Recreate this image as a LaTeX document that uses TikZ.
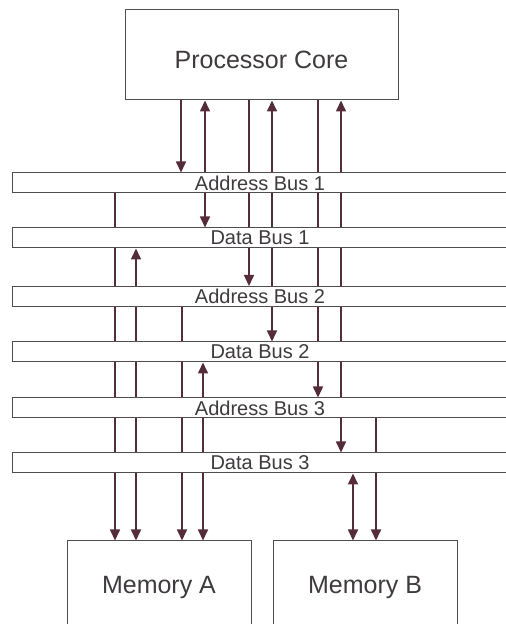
\documentclass[tikz,border=0pt]{standalone}
\usepackage{fontspec}
\setmainfont{Liberation Sans}
\usetikzlibrary{arrows.meta,backgrounds}
\definecolor{wirecol}{RGB}{84,44,58}
\definecolor{linecol}{RGB}{80,75,80}
\definecolor{inkcol}{RGB}{62,58,62}

\begin{document}
\begin{tikzpicture}
	[x=1pt, y=1pt,
	box/.style={rectangle,draw=linecol,line width=1pt,fill=white,text=inkcol,font=\fontsize{25}{29}\selectfont},
	bus/.style={rectangle,draw=linecol,line width=1pt,fill=white,text=inkcol,inner sep=0pt,
		minimum width=496pt,minimum height=20pt,font=\fontsize{20}{21}\selectfont},
	sig/.style={draw=wirecol,line width=1.6pt},
	>={Triangle[length=11pt,width=10pt]}]
	\useasboundingbox (0,0) rectangle (506,624);
	\node (core) [box,minimum width=273pt,minimum height=90pt,text height=28pt,text depth=0pt]
		at (261.5,569) {Processor Core};
	\foreach \name/\y/\txt in {ab1/441/Address Bus 1, db1/386/Data Bus 1, ab2/327.5/Address Bus 2,
		db2/272/Data Bus 2, ab3/216/Address Bus 3, db3/161/Data Bus 3}
		\node (\name) [bus] at (260,\y) {\txt};
	\node (mema) [box,minimum width=184pt,minimum height=92pt] at (159,37) {Memory A};
	\node (memb) [box,minimum width=184pt,minimum height=92pt] at (365,37) {Memory B};
	% wires run behind the buses
	\begin{scope}[on background layer]
	\foreach \x/\a/\b/\tip in {181/core.south/ab1.north/->, 205/core.south/db1.north/<->,
		249/core.south/ab2.north/->, 272/core.south/db2.north/<->,
		318/core.south/ab3.north/->, 341/core.south/db3.north/<->,
		115/ab1.south/mema.north/->, 136/db1.south/mema.north/<->,
		182/ab2.south/mema.north/->, 203/db2.south/mema.north/<->,
		353/db3.south/memb.north/<->, 376/ab3.south/memb.north/->}
		\draw [sig,\tip] (\x,0 |- \a) -- (\x,0 |- \b);
	\end{scope}
\end{tikzpicture}
\end{document}
